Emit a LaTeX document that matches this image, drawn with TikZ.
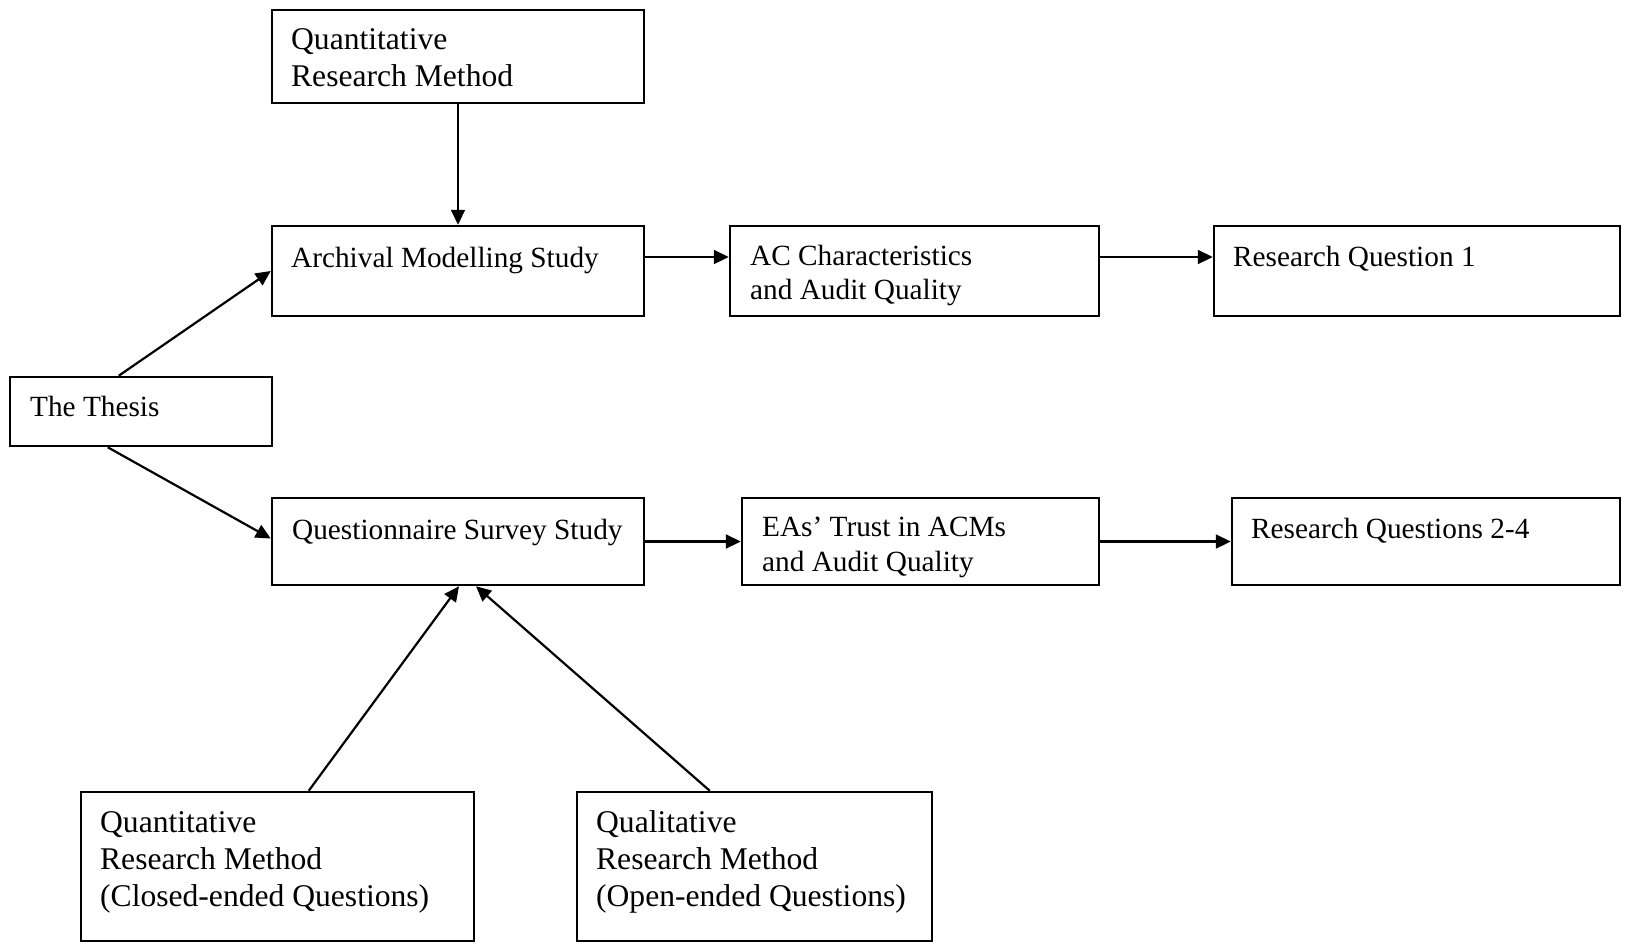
\documentclass[tikz,border=0pt]{standalone}
\usepackage{fontspec}
\setmainfont{Liberation Serif}
\usetikzlibrary{arrows.meta,calc,fit}
\begin{document}
\begin{tikzpicture}[x=0.5pt,y=-0.5pt,
  box/.style={draw,line width=1.25pt,inner sep=0pt},
  boxtxt/.style={anchor=base west,inner sep=0pt,font=\fontsize{14.65pt}{18.25pt}\selectfont},
  tight/.style={font=\fontsize{14.65pt}{17.25pt}\selectfont},
  large/.style={font=\fontsize{15.8pt}{18.5pt}\selectfont},
  arr/.style={-{Triangle[length=7.5pt,width=7pt]},line width=1.1pt}]
\useasboundingbox (0,0) rectangle (1627,943);

% boxes
\node[box,fit={(272,10) (644,103)}]   (qrm) {};
\node[box,fit={(272,226) (644,316)}]  (ams) {};
\node[box,fit={(730,226) (1099,316)}] (acq) {};
\node[box,fit={(1214,226) (1620,316)}] (rq1) {};
\node[box,fit={(10,377) (272,446)}]   (the) {};
\node[box,fit={(272,498) (644,585)}]  (qss) {};
\node[box,fit={(742,498) (1099,585)}] (eas) {};
\node[box,fit={(1232,498) (1620,585)}] (rq2) {};
\node[box,fit={(81,792) (474,941)}]   (qnb) {};
\node[box,fit={(577,792) (932,941)}]  (qlb) {};

% box texts, set from the top left corner of each box
\node[boxtxt,large] (qrm-t) at ($(qrm.north west)+(20,41)$) {\begin{tabular}[t]{@{}l@{}}Quantitative\\Research Method\end{tabular}};
\node[boxtxt] (ams-t) at ($(ams.north west)+(20,42.5)$) {Archival Modelling Study};
\node[boxtxt,tight] (acq-t) at ($(acq.north west)+(21,40.5)$) {\begin{tabular}[t]{@{}l@{}}AC Characteristics\\and Audit Quality\end{tabular}};
\node[boxtxt] (rq1-t) at ($(rq1.north west)+(20,42)$) {Research Question 1};
\node[boxtxt] (the-t) at ($(the.north west)+(21,40.5)$) {The Thesis};
\node[boxtxt] (qss-t) at ($(qss.north west)+(21,42.5)$) {Questionnaire Survey Study};
\node[boxtxt,tight] (eas-t) at ($(eas.north west)+(21,40)$) {\begin{tabular}[t]{@{}l@{}}EAs’ Trust in ACMs\\and Audit Quality\end{tabular}};
\node[boxtxt] (rq2-t) at ($(rq2.north west)+(20,42)$) {Research Questions 2-4};
\node[boxtxt,large] (qnb-t) at ($(qnb.north west)+(20,42)$) {\begin{tabular}[t]{@{}l@{}}Quantitative\\Research Method\\(Closed-ended Questions)\end{tabular}};
\node[boxtxt,large] (qlb-t) at ($(qlb.north west)+(20,42)$) {\begin{tabular}[t]{@{}l@{}}Qualitative\\Research Method\\(Open-ended Questions)\end{tabular}};

% connectors
\draw[arr] (qrm) -- (ams);
\draw[arr] ($(the.north west)+(110,0)$) -- (ams.west);
\draw[arr] ($(the.south west)+(99,0)$) -- ($(qss.west)+(0,-3)$);
\draw[arr] ($(ams.east)+(0,-14)$) -- ($(acq.west)+(0,-14)$);
\draw[arr] ($(acq.east)+(0,-14)$) -- ($(rq1.west)+(0,-14)$);
\draw[arr] (qss.east) -- (eas.west);
\draw[arr] (eas.east) -- (rq2.west);
\draw[arr] ($(qnb.north west)+(229,0)$) -- ($(qss.south)+(1,0)$);
\draw[arr] ($(qlb.north west)+(134,0)$) -- ($(qss.south)+(18,0)$);
\end{tikzpicture}
\end{document}
